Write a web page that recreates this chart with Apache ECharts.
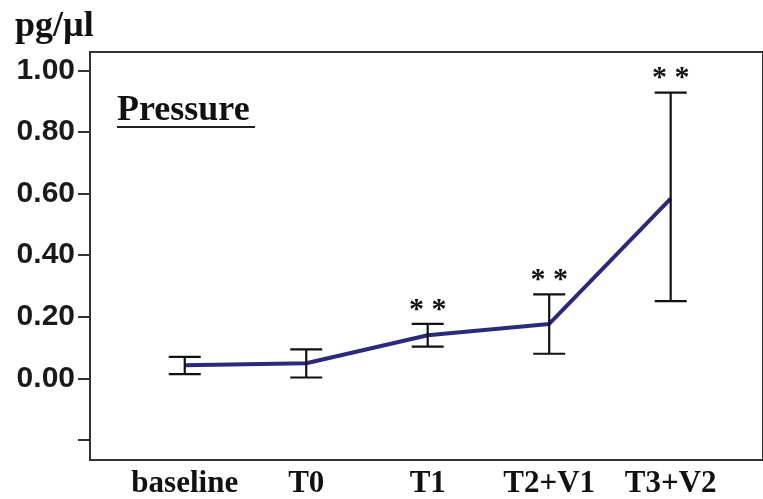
<!DOCTYPE html>
<html>
<head>
<meta charset="utf-8">
<script src="https://cdn.jsdelivr.net/npm/echarts@6/dist/echarts.min.js"></script>
<style>
  html, body { margin: 0; padding: 0; background: #fff; }
  #chart { width: 763px; height: 499px; }
</style>
</head>
<body>
<div id="chart"></div>
<script>
// Time points of the measurement
const categories = ['baseline', 'T0', 'T1', 'T2+V1', 'T3+V2'];
// Mean concentration (pg/µl) at each time point
const means = [0.043, 0.049, 0.140, 0.177, 0.584];
// Error bar limits
const lower = [0.014, 0.003, 0.103, 0.080, 0.251];
const upper = [0.070, 0.094, 0.177, 0.273, 0.928];
// Significance marks above the error bars
const marks = ['', '', '* *', '* *', '* *'];
// Y axis ticks and labels
const yTicks = [-0.2, 0, 0.2, 0.4, 0.6, 0.8, 1.0];
const yLabels = [0, 0.2, 0.4, 0.6, 0.8, 1.0];

const chart = echarts.init(document.getElementById('chart'), null, { renderer: 'canvas' });

const lineData = means.map((v, i) => [i, v]);
const errData = means.map((v, i) => [i, lower[i], upper[i]]);

const axisColor = '#333';

const option = {
  animation: false,
  backgroundColor: '#fff',
  grid: {
    left: 90, top: 52, right: -10, bottom: 36,
    show: true, borderColor: axisColor, borderWidth: 2, backgroundColor: 'transparent'
  },
  xAxis: {
    type: 'value',
    min: -0.78, max: 4.76,
    splitLine: { show: false },
    axisLine: { show: true, onZero: false, lineStyle: { color: axisColor, width: 2 } },
    axisTick: { show: false },
    axisLabel: {
      customValues: [0, 1, 2, 3, 4],
      formatter: v => categories[Math.round(v)],
      color: '#111',
      fontFamily: 'Liberation Serif',
      fontWeight: 'bold',
      fontSize: 31,
      margin: 8
    }
  },
  yAxis: {
    type: 'value',
    min: -0.265, max: 1.06,
    splitLine: { show: false },
    axisLine: { show: true, onZero: false, lineStyle: { color: axisColor, width: 2 } },
    axisTick: {
      show: true, customValues: yTicks, length: 12,
      lineStyle: { color: axisColor, width: 2 }
    },
    axisLabel: {
      customValues: yLabels,
      formatter: v => v.toFixed(2),
      color: '#1a1a1a',
      fontFamily: 'Liberation Sans',
      fontWeight: 'bold',
      fontSize: 30,
      margin: 15
    }
  },
  graphic: [
    {
      type: 'text', left: 15, top: 9,
      style: { text: 'pg/µl', font: 'bold 36px "Liberation Serif"', fill: '#111' }
    },
    {
      type: 'text', left: 117, top: 93,
      style: { text: 'Pressure', font: 'bold 36px "Liberation Serif"', fill: '#111' }
    },
    {
      type: 'line', shape: { x1: 117, y1: 127, x2: 255, y2: 127 },
      style: { stroke: '#222', lineWidth: 2 }
    }
  ],
  series: [
    {
      type: 'line',
      data: lineData,
      symbol: 'none',
      lineStyle: { color: '#2a2a7c', width: 4 },
      z: 3
    },
    {
      type: 'custom',
      data: errData,
      z: 4,
      renderItem: (params, api) => {
        const i = api.value(0);
        const lo = api.coord([i, api.value(1)]);
        const hi = api.coord([i, api.value(2)]);
        const cap = 16;
        const st = { stroke: '#111', lineWidth: 2.2 };
        const children = [
          { type: 'line', shape: { x1: lo[0], y1: lo[1], x2: hi[0], y2: hi[1] }, style: st },
          { type: 'line', shape: { x1: lo[0] - cap, y1: lo[1], x2: lo[0] + cap, y2: lo[1] }, style: st },
          { type: 'line', shape: { x1: hi[0] - cap, y1: hi[1], x2: hi[0] + cap, y2: hi[1] }, style: st }
        ];
        const m = marks[params.dataIndex];
        if (m) {
          children.push({
            type: 'text',
            x: hi[0], y: hi[1] - 14,
            style: {
              text: m, font: 'bold 30px "Liberation Serif"', fill: '#111',
              align: 'center', verticalAlign: 'middle'
            }
          });
        }
        return { type: 'group', children };
      }
    }
  ]
};

chart.setOption(option);
</script>
</body>
</html>
